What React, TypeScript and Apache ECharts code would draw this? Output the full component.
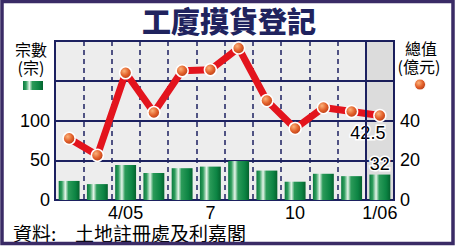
import React, { useEffect, useRef } from "react";
import * as echarts from "echarts";

// Months from Feb 2005 to Jan 2006
const months = ["2/05", "3", "4/05", "5", "6", "7", "8", "9", "10", "11", "12", "1/06"];
// Number of deals (left axis, 宗)
const deals = [24, 20, 44, 34, 40, 42, 49, 37, 23, 33, 30, 32];
// Total value (right axis, 億元)
const totals = [31, 22.5, 64, 44, 65, 65.5, 76.5, 50, 36, 46.5, 44.5, 42.5];
const leftTicks = [0, 50, 100];
const rightTicks = [0, 20, 40];

const NAVY = "#1c2160";
const NUM_FONT = "Liberation Sans, Arial, sans-serif";
const CJK_FONT = "'Noto Sans CJK TC', 'Noto Sans CJK SC', sans-serif";

const barGradient = new echarts.graphic.LinearGradient(0, 0, 1, 0, [
  { offset: 0, color: "#0a7a3e" },
  { offset: 0.15, color: "#2f9e5d" },
  { offset: 0.32, color: "#e6f5ea" },
  { offset: 0.47, color: "#2b9b59" },
  { offset: 0.8, color: "#0c8443" },
  { offset: 1, color: "#05622e" },
]);

const dotGradient = () =>
  new echarts.graphic.RadialGradient(0.38, 0.35, 0.7, [
    { offset: 0, color: "#fbb27a" },
    { offset: 0.55, color: "#e2602a" },
    { offset: 1, color: "#b53a14" },
  ]);

const sideText = (text: string, x: number, y: number) => ({
  type: "text",
  x,
  y,
  style: {
    text,
    fill: "#000",
    font: `16px ${CJK_FONT}`,
    lineHeight: 16,
    textAlign: "center",
    textVerticalAlign: "middle",
  },
});

export default function App() {
  const ref = useRef<HTMLDivElement>(null);

  useEffect(() => {
    if (!ref.current) return;
    const chart = echarts.init(ref.current, undefined, { renderer: "svg" });
    const last = months.length - 1;

    chart.setOption({
      animation: false,
      backgroundColor: "#ffffff",
      grid: {
        left: 55,
        right: 64,
        top: 41,
        bottom: 48,
        show: true,
        borderColor: NAVY,
        borderWidth: 2,
        backgroundColor: "#ededed",
      },
      xAxis: [
        {
          type: "category",
          data: months,
          boundaryGap: true,
          axisLine: { show: true, lineStyle: { color: NAVY, width: 2 } },
          axisTick: { show: false },
          axisLabel: {
            interval: (i: number) => i % 3 === 2,
            color: "#000",
            fontFamily: NUM_FONT,
            fontSize: 18,
            lineHeight: 16,
            margin: 5,
          },
          splitLine: {
            show: true,
            interval: 0,
            lineStyle: { color: NAVY, width: 1.5, type: [5, 4] },
          },
        },
        {
          type: "value",
          min: 0,
          max: 12,
          show: false,
        },
      ],
      yAxis: [
        {
          type: "value",
          min: 0,
          max: 200,
          interval: 50,
          axisLine: { show: false },
          axisTick: { show: false },
          axisLabel: {
            formatter: (v: number) => (leftTicks.includes(v) ? String(v) : ""),
            color: "#000",
            fontFamily: NUM_FONT,
            fontSize: 18,
            margin: 5,
          },
          splitLine: { show: true, lineStyle: { color: NAVY, width: 2 } },
        },
        {
          type: "value",
          min: 0,
          max: 80,
          interval: 20,
          axisLine: { show: false },
          axisTick: { show: false },
          axisLabel: {
            formatter: (v: number) => (rightTicks.includes(v) ? String(v) : ""),
            color: "#000",
            fontFamily: NUM_FONT,
            fontSize: 18,
            margin: 6,
          },
          splitLine: { show: false },
        },
      ],
      series: [
        {
          // shaded January column and the solid year divider
          type: "line",
          xAxisIndex: 1,
          yAxisIndex: 0,
          data: [[11, 0]],
          symbol: "none",
          lineStyle: { opacity: 0 },
          silent: true,
          z: 1,
          markArea: {
            silent: true,
            itemStyle: { color: "rgba(0,0,0,0.07)" },
            data: [[{ xAxis: 11 }, { xAxis: 12 }]],
          },
          markLine: {
            silent: true,
            symbol: "none",
            label: { show: false },
            lineStyle: { color: NAVY, width: 2, type: "solid" },
            data: [{ xAxis: 11 }],
          },
        },
        {
          name: "宗數",
          type: "bar",
          yAxisIndex: 0,
          barWidth: "74%",
          itemStyle: { color: barGradient },
          data: deals.map((v, i) =>
            i === last
              ? {
                  value: v,
                  label: {
                    show: true,
                    position: "top",
                    distance: 2,
                    color: "#000",
                    fontFamily: NUM_FONT,
                    fontSize: 18,
                    textBorderColor: "#fff",
                    textBorderWidth: 3,
                  },
                }
              : v
          ),
          z: 2,
        },
        {
          name: "總值",
          type: "line",
          yAxisIndex: 1,
          symbol: "circle",
          symbolSize: 12,
          lineStyle: { color: "#e3141d", width: 7 },
          itemStyle: { color: dotGradient(), borderColor: "#ffffff", borderWidth: 1.5 },
          data: totals.map((v, i) =>
            i === last
              ? {
                  value: v,
                  label: {
                    show: true,
                    position: "bottom",
                    distance: 2,
                    offset: [-12, 0],
                    color: "#000",
                    fontFamily: NUM_FONT,
                    fontSize: 18,
                    textBorderColor: "#fff",
                    textBorderWidth: 3,
                  },
                }
              : v
          ),
          z: 3,
        },
      ],
      graphic: [
        {
          type: "text",
          left: "center",
          top: 5,
          style: {
            text: "工廈摸貨登記",
            fill: "#20235e",
            font: `900 29px ${CJK_FONT}`,
          },
        },
        sideText("宗數", 31, 48.5),
        sideText("(宗)", 31, 66.5),
        {
          type: "rect",
          shape: { x: 23, y: 81, width: 20, height: 9 },
          style: { fill: barGradient },
        },
        sideText("總值", 421, 47.5),
        sideText("(億元)", 419, 66),
        {
          type: "circle",
          shape: { cx: 420, cy: 84.5, r: 5.5 },
          style: { fill: dotGradient(), stroke: "#ffffff", lineWidth: 1 },
        },
        {
          type: "text",
          x: 13,
          y: 223,
          style: {
            text: "資料:",
            fill: "#000",
            font: `19px ${CJK_FONT}`,
            lineHeight: 19,
          },
        },
        {
          type: "text",
          x: 75,
          y: 223,
          style: {
            text: "土地註冊處及利嘉閣",
            fill: "#000",
            font: `19px ${CJK_FONT}`,
            lineHeight: 19,
          },
        },
        {
          type: "rect",
          z: 100,
          shape: { x: 2, y: 1.5, width: 451, height: 242 },
          style: { fill: "none", stroke: "#3a2b66", lineWidth: 3.5 },
        },
      ],
    });

    return () => chart.dispose();
  }, []);

  return (
    <div
      ref={ref}
      style={{ position: "absolute", left: 0, top: 0, width: 458, height: 248 }}
    />
  );
}
